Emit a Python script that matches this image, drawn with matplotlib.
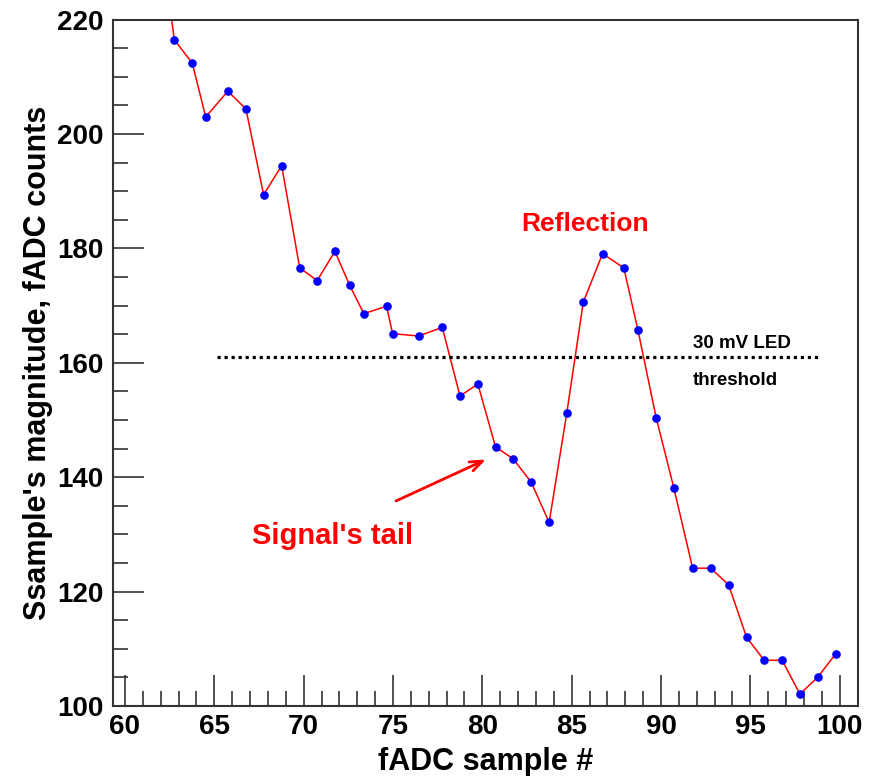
import numpy as np
import matplotlib
matplotlib.use("Agg")
import matplotlib.pyplot as plt
from matplotlib.ticker import MultipleLocator

plt.rcParams['font.family'] = ['Liberation Sans', 'DejaVu Sans']
plt.rcParams['font.weight'] = 'bold'

# fADC samples (sample #, counts)
sample = [61.76, 62.76, 63.77, 64.52, 65.76, 66.77, 67.76, 68.77, 69.78, 70.76,
          71.75, 72.57, 73.37, 74.64, 74.98, 76.43, 77.76, 78.75, 79.75, 80.74,
          81.73, 82.74, 83.74, 84.73, 85.65, 86.73, 87.92, 88.71, 89.73, 90.72,
          91.77, 92.78, 93.78, 94.79, 95.77, 96.78, 97.77, 98.76, 99.77]
counts = [241.0, 216.5, 212.4, 203.0, 207.5, 204.4, 189.4, 194.5, 176.6, 174.4,
          179.5, 173.6, 168.6, 169.9, 165.1, 164.7, 166.2, 154.2, 156.3, 145.3,
          143.2, 139.1, 132.1, 151.3, 170.6, 179.1, 176.6, 165.7, 150.4, 138.1,
          124.1, 124.1, 121.2, 112.0, 108.0, 108.0, 102.1, 105.0, 109.1]

threshold = 161.0
thr_start, thr_end = 65.15, 98.9

fig = plt.figure(figsize=(8.71, 7.76), dpi=100)
ax = fig.add_axes([0.1297, 0.0902, 0.8553, 0.8844])

ax.plot(sample, counts, color='red', lw=1.1, zorder=2)
ax.plot(sample, counts, 'o', color='blue', ms=6.2, mew=0, zorder=3)

# LED threshold
ax.hlines(threshold, thr_start, thr_end, colors='black', lw=2.3,
          linestyles=(0, (1, 1.2)))
ax.text(91.8, 163.4, '30 mV LED', fontsize=13.5, fontweight='bold',
        ha='left', va='center')
ax.text(91.8, 157.0, 'threshold', fontsize=13.5, fontweight='bold',
        ha='left', va='center')

ax.text(85.75, 184.2, 'Reflection', color='red', fontsize=19,
        fontweight='bold', ha='center', va='center')
ax.text(71.6, 129.7, "Signal's tail", color='red', fontsize=21,
        fontweight='bold', ha='center', va='center')
ax.annotate('', xy=(80.2, 143.1), xytext=(75.17, 135.85),
            arrowprops=dict(arrowstyle='->,head_length=0.9,head_width=0.35',
                            color='red', lw=2.0, shrinkA=0, shrinkB=0))

ax.set_xlim(59.33, 101.02)
ax.set_ylim(100, 220)

ax.xaxis.set_major_locator(MultipleLocator(5))
ax.xaxis.set_minor_locator(MultipleLocator(1))
ax.yaxis.set_major_locator(MultipleLocator(20))
ax.yaxis.set_minor_locator(MultipleLocator(5))
ax.tick_params(which='both', direction='in', top=False, right=False,
               width=1.2, color='#333333')
ax.tick_params(which='major', length=22, labelsize=20)
ax.tick_params(which='minor', length=11)
ax.tick_params(axis='x', which='major', pad=6)
ax.tick_params(axis='y', which='major', pad=7)
for lab in ax.get_xticklabels() + ax.get_yticklabels():
    lab.set_fontweight('bold')
for sp in ax.spines.values():
    sp.set_linewidth(1.5)
    sp.set_color('#333333')

ax.set_xlabel('fADC sample #', fontsize=22, fontweight='bold', labelpad=5)
ax.set_ylabel("Ssample's magnitude, fADC counts", fontsize=22,
              fontweight='bold', labelpad=3)

fig.savefig('out.png', dpi=100)
